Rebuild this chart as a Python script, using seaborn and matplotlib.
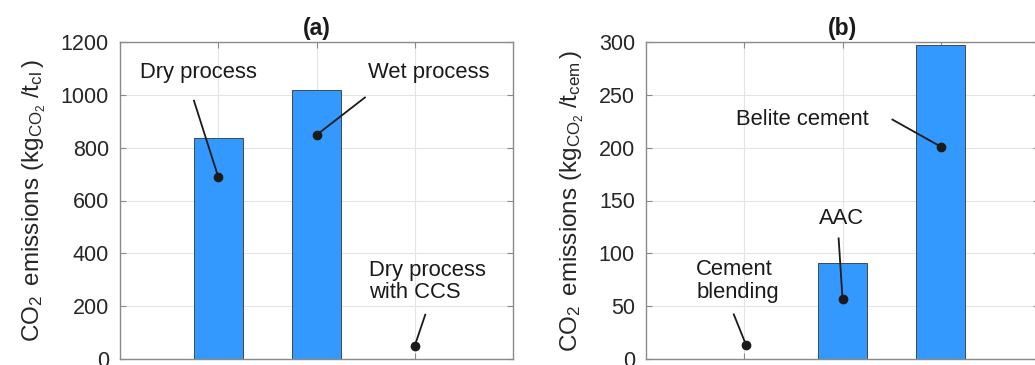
import matplotlib
matplotlib.use("Agg")
import matplotlib.pyplot as plt
import seaborn as sns
import pandas as pd

# Data
cats_a = ["Dry process", "Wet process", "Dry process with CCS"]
vals_a = [836, 1020, 0]
cats_b = ["Cement blending", "AAC", "Belite cement"]
vals_b = [0, 91, 297]

sns.set_theme(style="white")
plt.rcParams['font.family'] = ['Liberation Sans', 'DejaVu Sans']
plt.rcParams['mathtext.fontset'] = 'custom'
plt.rcParams['mathtext.rm'] = 'Liberation Sans'
plt.rcParams['mathtext.it'] = 'Liberation Sans'

FS = 15.5
FS_NOTE = 15.8
FS_LAB = 17.5
BAR = "#3399FF"
SPINE = "#8a8a8a"
TXT = "#262626"

fig = plt.figure(figsize=(10.35, 3.65), dpi=100)
ax1 = fig.add_axes([120/1035, 6/365, 393/1035, 317/365])
ax2 = fig.add_axes([646/1035, 6/365, 393/1035, 317/365])


def style(ax, ymax, ystep):
    ax.set_xlim(-1, 3)
    ax.set_ylim(0, ymax)
    ax.set_yticks(range(0, ymax + 1, ystep))
    ax.set_xticks([0, 1, 2])
    ax.set_xticklabels([])
    ax.set_xlabel("")
    ax.grid(True, color="#e3e3e3", lw=0.8)
    ax.set_axisbelow(True)
    for s in ax.spines.values():
        s.set_color(SPINE)
        s.set_linewidth(1.0)
    ax.tick_params(direction="in", length=4, width=0.8, color=SPINE,
                   top=True, right=True, bottom=True, left=True,
                   labelsize=FS, labelcolor=TXT, pad=8)


df_a = pd.DataFrame({"cat": cats_a, "val": vals_a})
df_b = pd.DataFrame({"cat": cats_b, "val": vals_b})
sns.barplot(data=df_a, x="cat", y="val", order=cats_a, color=BAR, saturation=1,
            width=0.5, edgecolor="#333333", linewidth=0.6, ax=ax1)
sns.barplot(data=df_b, x="cat", y="val", order=cats_b, color=BAR, saturation=1,
            width=0.5, edgecolor="#333333", linewidth=0.6, ax=ax2)
style(ax1, 1200, 200)
style(ax2, 300, 50)

ax1.set_title("(a)", fontsize=16.5, fontweight="bold", color="k", pad=5)
ax2.set_title("(b)", fontsize=16.5, fontweight="bold", color="k", pad=5)
ax1.set_ylabel(r"CO$_{2}\,$ emissions (kg$_{\mathrm{CO}_{2}}\;$/t$_{\mathrm{cl}}\,$)",
               fontsize=FS_LAB, color=TXT, labelpad=9)
ax2.set_ylabel(r"CO$_{2}\,$ emissions (kg$_{\mathrm{CO}_{2}}\;$/t$_{\mathrm{cem}}\,$)",
               fontsize=FS_LAB, color=TXT, labelpad=9)


def note(ax, text, txy, start, dot, ha="center"):
    ax.text(txy[0], txy[1], text, fontsize=FS_NOTE, color="k", ha=ha,
            va="center", linespacing=1.1)
    ax.plot([start[0], dot[0]], [start[1], dot[1]], color="k", lw=1.3,
            solid_capstyle="butt")
    ax.plot([dot[0]], [dot[1]], "o", color="k", ms=6)


note(ax1, "Dry process", (-0.2, 1083), (-0.25, 981), (0.0, 689))
note(ax1, "Wet process", (2.14, 1083), (1.5, 992), (1.0, 848))
note(ax1, "Dry process\nwith CCS", (1.53, 294), (2.11, 171), (2.0, 50), ha="left")

note(ax2, "Belite cement", (0.59, 227), (1.5, 227), (2.0, 201))
note(ax2, "AAC", (0.99, 133), (0.96, 115), (1.0, 57))
note(ax2, "Cement\nblending", (-0.49, 74), (-0.11, 43), (0.02, 13), ha="left")

fig.savefig("out.png", dpi=100)
